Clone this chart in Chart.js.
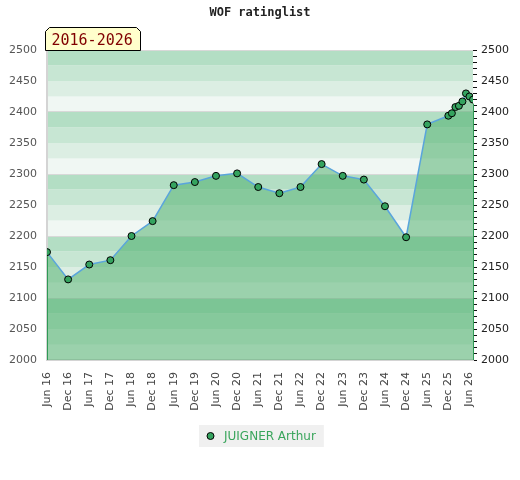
<!DOCTYPE html>
<html><head><meta charset="utf-8">
<script src="https://cdn.jsdelivr.net/npm/chart.js@4/dist/chart.umd.min.js"></script>
<style>html,body{margin:0;padding:0;background:#fff}#wrap{width:520px;height:480px;position:relative}</style>
</head><body><div id="wrap"><canvas id="c" width="520" height="480"></canvas></div>
<script>
const titleText = "WOF ratinglist";
const periodLabel = "2016-2026";
const playerName = "JUIGNER Arthur";
const ratingDates = ["2016-06","2016-12","2017-06","2017-12","2018-06","2018-12","2019-06","2019-12",
  "2020-06","2020-12","2021-06","2021-12","2022-06","2022-12","2023-06","2023-12","2024-06","2024-12",
  "2025-06","2025-12","2026-01","2026-02","2026-03","2026-04","2026-05","2026-06","2026-07"];
const ratings = [2174,2130,2154,2161,2200,2224,2282,2287,2297,2301,2279,2269,2279,2316,2297,2291,2248,2198,
  2380,2394,2398,2408,2410,2417,2430,2425,2420];
const xTickLabels = ["Jun 16","Dec 16","Jun 17","Dec 17","Jun 18","Dec 18","Jun 19","Dec 19","Jun 20","Dec 20",
  "Jun 21","Dec 21","Jun 22","Dec 22","Jun 23","Dec 23","Jun 24","Dec 24","Jun 25","Dec 25","Jun 26"];
const yMin = 2000, yMax = 2500;
const bandColors = ["#f0f7f3","#dceee3","#c7e6d3","#b3dec4"];

function monthIndex(s){const [y,m]=s.split("-").map(Number);return (y-2016)*12+(m-6);}
const points = ratingDates.map((d,i)=>({x:monthIndex(d),y:ratings[i]}));

const bandsPlugin = {
  id:'bands',
  beforeDraw(chart){
    const {ctx, chartArea:a, scales:{y}} = chart;
    ctx.save();
    for(let v=yMin; v<yMax; v+=25){
      const top=y.getPixelForValue(v+25), bot=y.getPixelForValue(v);
      ctx.fillStyle=bandColors[((v-yMin)/25)%4];
      ctx.fillRect(a.left-1, top, a.right-a.left+1, bot-top);
    }
    ctx.restore();
  },
  afterDatasetsDraw(chart){
    const {ctx, chartArea:a, scales:{x,y}} = chart;
    const first=points[0], last=points[points.length-1];
    ctx.save();
    ctx.strokeStyle='#2f9a55'; ctx.lineWidth=1;
    [first,last].forEach(p=>{
      const px=Math.round(x.getPixelForValue(p.x))+0.5;
      ctx.beginPath(); ctx.moveTo(px,y.getPixelForValue(p.y)+4); ctx.lineTo(px,a.bottom); ctx.stroke();
    });
    ctx.restore();
  },
  afterDraw(chart){
    const {ctx, chartArea:a} = chart;
    ctx.save();
    const L=45.5, R=140.5, T=27.5, B=a.top+0.5;
    ctx.beginPath();
    ctx.moveTo(L,B); ctx.lineTo(L,T+4); ctx.lineTo(L+4,T); ctx.lineTo(R-4,T); ctx.lineTo(R,T+4); ctx.lineTo(R,B);
    ctx.closePath();
    ctx.fillStyle='#ffffcc'; ctx.fill();
    ctx.strokeStyle='#000'; ctx.lineWidth=1; ctx.stroke();
    ctx.fillStyle='#800000'; ctx.font='15px "DejaVu Sans Mono"'; ctx.textBaseline='alphabetic'; ctx.textAlign='left';
    ctx.fillText(periodLabel, L+6, 45);
    const ds=chart.data.datasets[0];
    ctx.font='12px "DejaVu Sans"';
    const tw=ctx.measureText(ds.label).width;
    const w=25+tw+8, h=22;
    const cx=(a.left+a.right)/2+1;
    const lx=Math.round(cx-w/2), ly=425;
    ctx.fillStyle='#f0f0f0'; ctx.fillRect(lx,ly,w,h);
    ctx.beginPath(); ctx.arc(lx+11.5, ly+11, 3.5, 0, Math.PI*2);
    ctx.fillStyle=ds.pointBackgroundColor; ctx.fill();
    ctx.strokeStyle='#000'; ctx.lineWidth=1; ctx.stroke();
    ctx.fillStyle='#3aa55c'; ctx.textBaseline='middle';
    ctx.fillText(ds.label, lx+25, ly+11.5);
    ctx.restore();
  }
};

new Chart(document.getElementById('c'), {
  type:'line',
  data:{datasets:[{
    label:playerName,
    data:points,
    borderColor:'#5aa5dc',
    borderWidth:1.5,
    backgroundColor:'rgba(70,172,102,0.5)',
    fill:'start',
    tension:0,
    pointRadius:3.5,
    pointBackgroundColor:'#35a35f',
    pointBorderColor:'#000',
    pointBorderWidth:1
  }]},
  options:{
    responsive:false,
    animation:false,
    devicePixelRatio:1,
    layout:{padding:0},
    plugins:{
      legend:{display:false},
      tooltip:{enabled:false},
      title:{display:true,text:titleText,color:'#222',
        font:{family:'"DejaVu Sans Mono"',size:12,weight:'bold'},padding:{top:6,bottom:29.6}}
    },
    scales:{
      x:{type:'linear',min:0,max:monthIndex(ratingDates[ratingDates.length-1]),
        afterFit(s){s.height=120;},
        afterBuildTicks(s){s.ticks=xTickLabels.map((_,i)=>({value:i*6}));},
        grid:{display:true,drawOnChartArea:false,drawTicks:false},
        border:{display:true,color:'#d4d4d4',width:2},
        ticks:{autoSkip:false,maxRotation:90,minRotation:90,padding:12,color:'#444',
          font:{family:'"DejaVu Sans"',size:11},
          callback:(v)=> xTickLabels[Math.round(v/6)]}
      },
      y:{position:'left',min:yMin,max:yMax,
        afterFit(s){s.width=47;},
        grid:{drawTicks:false,color:(c)=> (c.tick && c.tick.value%100===0) ? '#d8d8d8' : 'rgba(0,0,0,0)'},
        border:{display:true,color:'#d4d4d4',width:2},
        ticks:{stepSize:50,padding:10,color:'#555',font:{family:'"DejaVu Sans"',size:11},
          callback:(v)=>String(v)}
      },
      y2:{position:'right',min:yMin,max:yMax,
        afterFit(s){s.width=47;},
        grid:{drawOnChartArea:false,drawTicks:true,tickLength:4,tickColor:'#111'},
        border:{display:false},
        ticks:{stepSize:10,autoSkip:false,padding:4,color:'#222',font:{family:'"DejaVu Sans"',size:11},
          callback:(v)=> v%50===0 ? String(v) : ''}
      }
    }
  },
  plugins:[bandsPlugin]
});
</script></body></html>
